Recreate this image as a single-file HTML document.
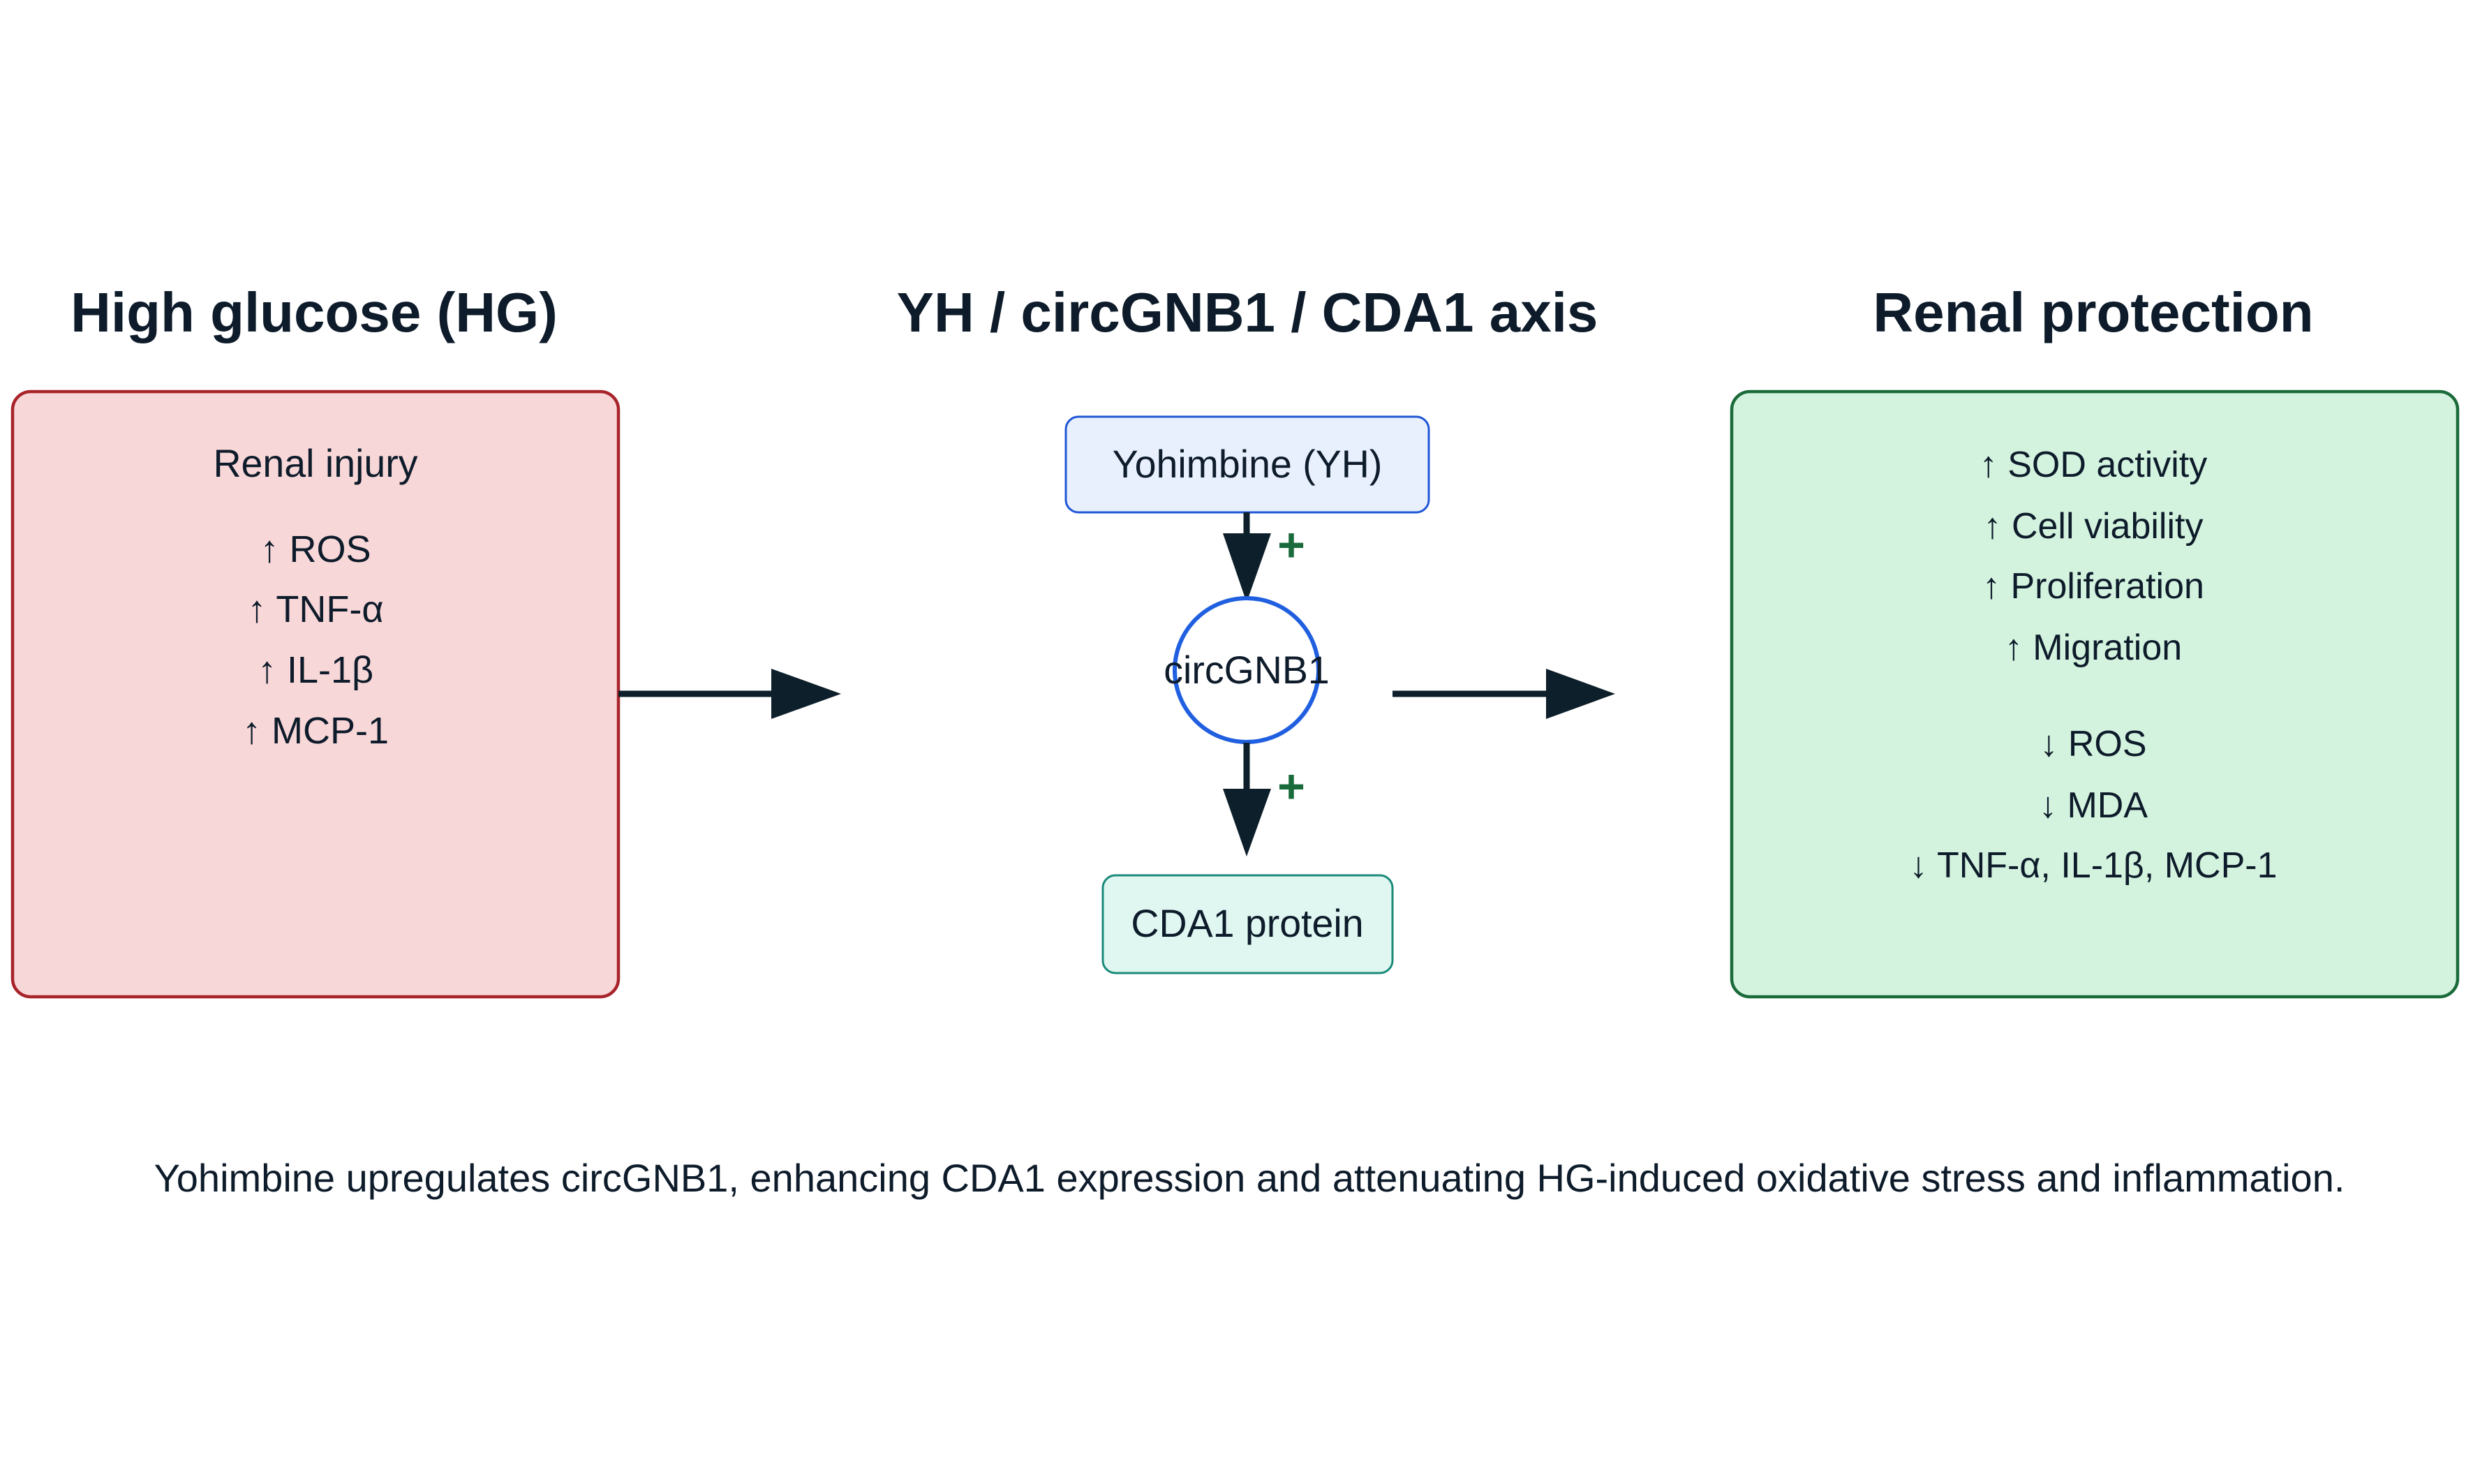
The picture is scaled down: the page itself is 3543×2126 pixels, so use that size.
<!DOCTYPE html>
<html><head><meta charset="utf-8"><style>
html,body{margin:0;padding:0;background:#fff;}
svg{display:block;}
text{font-family:"Liberation Sans",sans-serif;fill:#0d1b2a;}
.t{font-size:80px;font-weight:bold;}
.b{font-size:54px;}
.r{font-size:52px;}
</style></head><body>
<svg width="3543" height="2126" viewBox="0 0 3543 2126" xmlns="http://www.w3.org/2000/svg">
<rect width="3543" height="2126" fill="#fff"/>
<text class="t" x="450" y="475" text-anchor="middle">High glucose (HG)</text>
<text class="t" x="1787" y="475" text-anchor="middle">YH / circGNB1 / CDA1 axis</text>
<text class="t" x="2999" y="475" text-anchor="middle">Renal protection</text>

<rect x="18" y="561" width="868" height="867" rx="26" fill="#f8d7d8" stroke="#a8232a" stroke-width="4.5"/>
<text x="452" y="683" text-anchor="middle" style="font-size:55.5px">Renal injury</text>
<text class="b" x="452" y="805" text-anchor="middle">↑ ROS</text>
<text class="b" x="452" y="891" text-anchor="middle">↑ TNF-α</text>
<text class="b" x="452" y="978" text-anchor="middle">↑ IL-1β</text>
<text class="b" x="452" y="1065" text-anchor="middle">↑ MCP-1</text>

<line x1="886" y1="994" x2="1110" y2="994" stroke="#0d1f2a" stroke-width="9"/>
<polygon points="1105,958 1205,994 1105,1030" fill="#0d1f2a"/>

<rect x="1527" y="597" width="520" height="137" rx="18" fill="#e8f0fe" stroke="#1f56d6" stroke-width="3"/>
<text x="1787" y="684" text-anchor="middle" style="font-size:55.5px">Yohimbine (YH)</text>

<line x1="1786" y1="734" x2="1786" y2="770" stroke="#0d1f2a" stroke-width="9"/>
<polygon points="1752,764 1821,764 1786,863" fill="#0d1f2a"/>
<text x="1850" y="804" text-anchor="middle" style="font-size:68px;font-weight:bold;fill:#1a6b3c">+</text>

<circle cx="1786" cy="960" r="103" fill="#fff" stroke="#1f5fe0" stroke-width="6"/>
<text x="1786" y="979" text-anchor="middle" style="font-size:55.5px">circGNB1</text>

<line x1="1786" y1="1064" x2="1786" y2="1135" stroke="#0d1f2a" stroke-width="9"/>
<polygon points="1752,1130 1821,1130 1786,1227" fill="#0d1f2a"/>
<text x="1850" y="1150" text-anchor="middle" style="font-size:68px;font-weight:bold;fill:#1a6b3c">+</text>

<rect x="1580" y="1254" width="415" height="140" rx="18" fill="#e0f7f1" stroke="#1a8a78" stroke-width="3"/>
<text x="1787" y="1342" text-anchor="middle" style="font-size:55.5px">CDA1 protein</text>

<line x1="1995" y1="994" x2="2220" y2="994" stroke="#0d1f2a" stroke-width="9"/>
<polygon points="2215,958 2314,994 2215,1030" fill="#0d1f2a"/>

<rect x="2481" y="561" width="1040" height="867" rx="26" fill="#d4f3df" stroke="#1b6b3a" stroke-width="4.5"/>
<text class="r" x="2999" y="683" text-anchor="middle">↑ SOD activity</text>
<text class="r" x="2999" y="771" text-anchor="middle">↑ Cell viability</text>
<text class="r" x="2999" y="857" text-anchor="middle">↑ Proliferation</text>
<text class="r" x="2999" y="945" text-anchor="middle">↑ Migration</text>
<text class="r" x="2999" y="1083" text-anchor="middle">↓ ROS</text>
<text class="r" x="2999" y="1171" text-anchor="middle">↓ MDA</text>
<text class="r" x="2999" y="1257" text-anchor="middle">↓ TNF-α, IL-1β, MCP-1</text>

<text x="1790" y="1707" text-anchor="middle" style="font-size:56px">Yohimbine upregulates circGNB1, enhancing CDA1 expression and attenuating HG-induced oxidative stress and inflammation.</text>
</svg>
</body></html>
